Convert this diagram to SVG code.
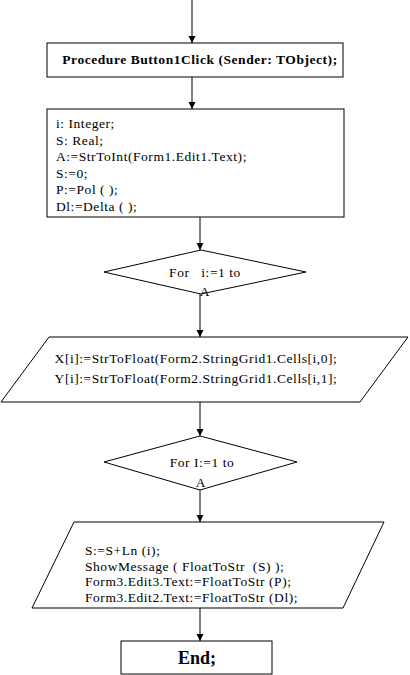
<svg xmlns="http://www.w3.org/2000/svg" width="410" height="675" viewBox="0 0 410 675" font-family="'Liberation Serif', 'DejaVu Serif', serif">
<style>
text{font-family:'Liberation Serif','DejaVu Serif',serif;font-size:13.5px;letter-spacing:0.55px;fill:#000}
.s{fill:#fff;stroke:#000;stroke-width:1}
.b{font-weight:bold}
.c{text-anchor:middle}
.e{stroke:#000;stroke-width:1;fill:none}
</style>
<defs>
<marker id="ar" markerWidth="8" markerHeight="8" refX="7" refY="4" orient="auto" markerUnits="userSpaceOnUse">
<path d="M0,0.5 L7,4 L0,7.5 Z" fill="#000"/>
</marker>
</defs>
<rect width="410" height="675" fill="#fff"/>
<g id="connectors">
<line class="e" x1="192" y1="0" x2="192" y2="43" marker-end="url(#ar)"/>
<line class="e" x1="192" y1="77" x2="192" y2="109" marker-end="url(#ar)"/>
<line class="e" x1="200" y1="217" x2="200" y2="250" marker-end="url(#ar)"/>
<line class="e" x1="200" y1="294" x2="200" y2="337" marker-end="url(#ar)"/>
<line class="e" x1="200" y1="402" x2="200" y2="436" marker-end="url(#ar)"/>
<line class="e" x1="200" y1="490" x2="200" y2="522" marker-end="url(#ar)"/>
<line class="e" x1="200" y1="608" x2="200" y2="641" marker-end="url(#ar)"/>
</g>
<g id="proc">
<rect class="s" x="47" y="43" width="296" height="34"/>
<text class="b c" x="200" y="64">Procedure Button1Click (Sender: TObject);</text>
</g>
<g id="vars">
<rect class="s" x="47" y="109" width="297" height="108"/>
<text x="56" y="128">i: Integer;</text>
<text x="56" y="144.5">S: Real;</text>
<text x="56" y="161">A:=StrToInt(Form1.Edit1.Text);</text>
<text x="56" y="177.5">S:=0;</text>
<text x="56" y="194">P:=Pol ( );</text>
<text x="56" y="210.5">Dl:=Delta ( );</text>
</g>
<g id="loop1">
<polygon class="s" points="201,250 306,272 201,294 104,272"/>
<text class="c" x="205" y="277" xml:space="preserve">For   i:=1 to</text>
<text class="c" x="205" y="296">A</text>
</g>
<g id="input1">
<polygon class="s" points="49,337 408,337 360,402 1,402"/>
<text class="c" x="196" y="363">X[i]:=StrToFloat(Form2.StringGrid1.Cells[i,0];</text>
<text class="c" x="196" y="383">Y[i]:=StrToFloat(Form2.StringGrid1.Cells[i,1];</text>
</g>
<g id="loop2">
<polygon class="s" points="200,436 297,462 200,490 104,462"/>
<text class="c" x="202" y="467">For I:=1 to</text>
<text class="c" x="201" y="487">A</text>
</g>
<g id="output1">
<polygon class="s" points="74,522 384,522 343,608 32,608"/>
<text x="85" y="555">S:=S+Ln (i);</text>
<text x="85" y="570.5" xml:space="preserve">ShowMessage ( FloatToStr  (S) );</text>
<text x="85" y="586">Form3.Edit3.Text:=FloatToStr (P);</text>
<text x="85" y="601.5">Form3.Edit2.Text:=FloatToStr (Dl);</text>
</g>
<g id="end">
<rect class="s" x="121" y="641" width="151" height="33"/>
<text class="b c" x="197" y="664" style="font-size:18px;letter-spacing:0">End;</text>
</g>
</svg>
